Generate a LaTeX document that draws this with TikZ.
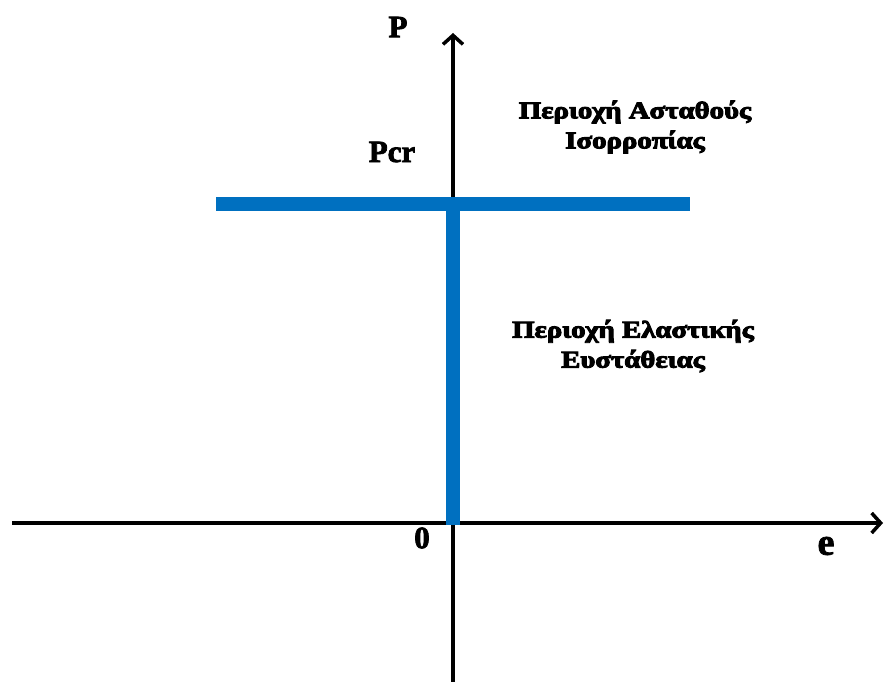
\documentclass[tikz,border=0pt]{standalone}
\usepackage{fontspec}
\setmainfont{Liberation Serif}
\usetikzlibrary{arrows.meta}
\definecolor{curveblue}{RGB}{0,112,192}
\newcommand{\heavytext}[2]{\special{pdf:literal 2 Tr #1 w}#2\special{pdf:literal 0 Tr}}
\tikzset{
  axis/.style={line width=4pt,-{Straight Barb[length=9pt,width=20pt,line width=3.5pt]}},
  blueline/.style={line width=14pt,curveblue},
  lbl/.style={font=\bfseries\fontsize{31}{34}\selectfont,inner sep=0pt},
  region/.style={font=\bfseries\fontsize{24}{26}\selectfont,align=center,inner sep=0pt,xscale=1.2,transform shape}
}
\begin{document}
\begin{tikzpicture}[x=1pt,y=-1pt]
\useasboundingbox (0,0) rectangle (884,682);
\coordinate (xs) at (12,523);
\coordinate (xe) at (883,523);
\coordinate (ys) at (453,682);
\coordinate (ye) at (453,33);
\draw[axis] (xs) -- (xe);
\draw[axis] (ys) -- (ye);
\coordinate (hl) at (216,204);
\coordinate (hr) at (690,204);
\coordinate (vt) at (452.5,204);
\coordinate (vb) at (452.5,525);
\draw[blueline] (vt) -- (vb);
\draw[blueline] (hl) -- (hr);
\node[lbl] (P) at (398,27) {\heavytext{0.8}{P}};
\node[lbl] (Pcr) at (392,152) {\heavytext{0.8}{Pcr}};
\node[lbl] (O) at (422,538) {\heavytext{0.8}{0}};
\node[lbl,font=\bfseries\fontsize{38}{40}\selectfont] (e) at (826,546) {\heavytext{0.8}{e}};
\node[region] (r1) at (635,127) {\heavytext{0.9}{Περιοχή Ασταθούς}\\[4pt]\heavytext{0.9}{Ισορροπίας}};
\node[region] (r2) at (633,346) {\heavytext{0.9}{Περιοχή Ελαστικής}\\[4pt]\heavytext{0.9}{Ευστάθειας}};
\end{tikzpicture}
\end{document}
